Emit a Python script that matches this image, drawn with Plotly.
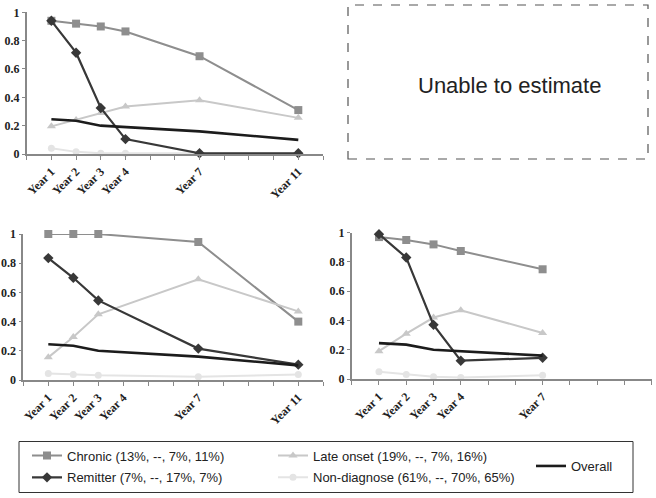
import plotly.graph_objects as go

# ---------------- data ----------------
year_labels = {1: "Year 1", 2: "Year 2", 3: "Year 3", 4: "Year 4", 7: "Year 7", 11: "Year 11"}

# Panel A (top-left)
years_a = [1, 2, 3, 4, 7, 11]
chronic_a = [0.94, 0.92, 0.90, 0.865, 0.69, 0.31]
remitter_a = [0.94, 0.715, 0.325, 0.105, 0.005, 0.005]
late_a = [0.195, 0.24, 0.29, 0.335, 0.38, 0.255]
nondiag_a = [0.04, 0.015, 0.005, 0.005, 0.005, 0.005]

# Panel B (bottom-left)
years_b = [1, 2, 3, 7, 11]
chronic_b = [1.0, 1.0, 1.0, 0.945, 0.40]
remitter_b = [0.835, 0.70, 0.545, 0.215, 0.105]
late_b = [0.155, 0.295, 0.45, 0.69, 0.47]
nondiag_b = [0.045, 0.037, 0.032, 0.022, 0.038]

# Panel C (bottom-right)
years_c = [1, 2, 3, 4, 7]
chronic_c = [0.97, 0.95, 0.92, 0.875, 0.75]
remitter_c = [0.99, 0.83, 0.37, 0.125, 0.145]
late_c = [0.19, 0.31, 0.42, 0.47, 0.315]
nondiag_c = [0.05, 0.03, 0.015, 0.01, 0.025]

# Overall (shared)
overall_years = [1, 2, 3, 4, 7, 11]
overall = [0.245, 0.235, 0.20, 0.19, 0.16, 0.10]

series_names = {
    "chronic": "Chronic (13%, --, 7%, 11%)",
    "remitter": "Remitter (7%, --, 17%, 7%)",
    "late": "Late onset (19%, --, 7%, 16%)",
    "nondiag": "Non-diagnose (61%, --, 70%, 65%)",
    "overall": "Overall",
}

# ---------------- styles ----------------
styles = {
    "chronic": dict(color="#8e8e8e", symbol="square", size=8, width=2),
    "late": dict(color="#c8c8c8", symbol="triangle-up", size=8, width=2),
    "nondiag": dict(color="#e4e4e4", symbol="circle", size=7, width=2),
    "remitter": dict(color="#383838", symbol="diamond", size=8, width=2.2),
}
legend_of = {"chronic": "legend", "remitter": "legend", "late": "legend2", "nondiag": "legend2"}
group_of = {"chronic": "g1", "remitter": "g2", "late": "g3", "nondiag": "g4"}

panels = [
    ("x", "y", years_a, {"chronic": chronic_a, "late": late_a, "nondiag": nondiag_a, "remitter": remitter_a}, overall_years, overall, True),
    ("x2", "y2", years_b, {"chronic": chronic_b, "late": late_b, "nondiag": nondiag_b, "remitter": remitter_b}, overall_years, overall, False),
    ("x3", "y3", years_c, {"chronic": chronic_c, "late": late_c, "nondiag": nondiag_c, "remitter": remitter_c}, overall_years[:5], overall[:5], False),
]

fig = go.Figure()
for xa, ya, yrs, vals, oy, ov, show in panels:
    for key in ["chronic", "late", "nondiag", "remitter"]:
        st = styles[key]
        fig.add_trace(go.Scatter(
            x=yrs, y=vals[key], xaxis=xa, yaxis=ya, mode="lines+markers",
            name=series_names[key], legend=legend_of[key], legendgroup=group_of[key],
            showlegend=show, cliponaxis=False,
            line=dict(color=st["color"], width=st["width"]),
            marker=dict(color=st["color"], symbol=st["symbol"], size=st["size"]),
        ))
    fig.add_trace(go.Scatter(
        x=oy, y=ov, xaxis=xa, yaxis=ya, mode="lines", name=series_names["overall"],
        legend="legend3", showlegend=show, cliponaxis=False,
        line=dict(color="#1c1c1c", width=2.6),
    ))

W, H = 656, 498

def px_x(p):
    return p / W

def px_y(p):
    return 1 - p / H

tickfont = dict(family="Liberation Serif, Times New Roman, serif", size=12, color="#222222", weight="bold")

def xaxis_cfg(x0, x1, maxyear, anchor):
    vals = list(range(0, maxyear + 1))
    return dict(
        domain=[px_x(x0), px_x(x1)], range=[0, maxyear], anchor=anchor,
        tickvals=vals, ticktext=[year_labels.get(v, "") for v in vals],
        tickangle=-45, ticks="outside", ticklen=4, tickcolor="#888888", tickwidth=1,
        showline=True, linecolor="#888888", linewidth=1.6, showgrid=False, zeroline=False,
        tickfont=tickfont, fixedrange=True, automargin=False,
    )

def yaxis_cfg(y0, y1, anchor):
    return dict(
        domain=[px_y(y0), px_y(y1)], range=[0, 1], anchor=anchor,
        tickvals=[0, 0.2, 0.4, 0.6, 0.8, 1], ticktext=["0", "0.2", "0.4", "0.6", "0.8", "1"],
        ticks="outside", ticklen=3, tickcolor="#888888", tickwidth=1,
        showline=True, linecolor="#888888", linewidth=1.6, showgrid=False, zeroline=False,
        tickfont=tickfont, fixedrange=True, automargin=False,
    )

legend_font = dict(family="Liberation Sans, Arial, sans-serif", size=13, color="#222222")

fig.update_layout(
    width=W, height=H, template="none",
    paper_bgcolor="white", plot_bgcolor="white",
    margin=dict(l=0, r=0, t=0, b=0, autoexpand=False),
    xaxis=xaxis_cfg(26.7, 323, 12, "y"),
    yaxis=yaxis_cfg(154, 12.3, "x"),
    xaxis2=xaxis_cfg(23.3, 323.3, 12, "y2"),
    yaxis2=yaxis_cfg(380, 234, "x2"),
    xaxis3=xaxis_cfg(351.7, 651.7, 11, "y3"),
    yaxis3=yaxis_cfg(379, 232.7, "x3"),
    legend=dict(x=px_x(27), y=px_y(466.5), xanchor="left", yanchor="middle", itemwidth=30,
                font=legend_font, bgcolor="rgba(0,0,0,0)", tracegroupgap=2, traceorder="grouped"),
    legend2=dict(x=px_x(273), y=px_y(466.5), xanchor="left", yanchor="middle", itemwidth=30,
                 font=legend_font, bgcolor="rgba(0,0,0,0)", tracegroupgap=2, traceorder="grouped"),
    legend3=dict(x=px_x(531), y=px_y(466), xanchor="left", yanchor="middle", itemwidth=30,
                 font=legend_font, bgcolor="rgba(0,0,0,0)"),
    shapes=[
        dict(type="rect", xref="paper", yref="paper", x0=px_x(348), x1=px_x(648), y0=px_y(159), y1=px_y(5),
             line=dict(color="#555555", width=1.2, dash="dash")),
        dict(type="rect", xref="paper", yref="paper", x0=px_x(19), x1=px_x(633), y0=px_y(492.5), y1=px_y(441.5),
             line=dict(color="#333333", width=1)),
    ],
    annotations=[
        dict(text="Unable to estimate", xref="paper", yref="paper", x=px_x(509), y=px_y(85),
             xanchor="center", yanchor="middle", showarrow=False,
             font=dict(family="Liberation Sans, Arial, sans-serif", size=22, color="#222222")),
    ],
)

fig.write_html("out.html", config={"displayModeBar": False},
               post_script="document.body.style.margin='0';")
